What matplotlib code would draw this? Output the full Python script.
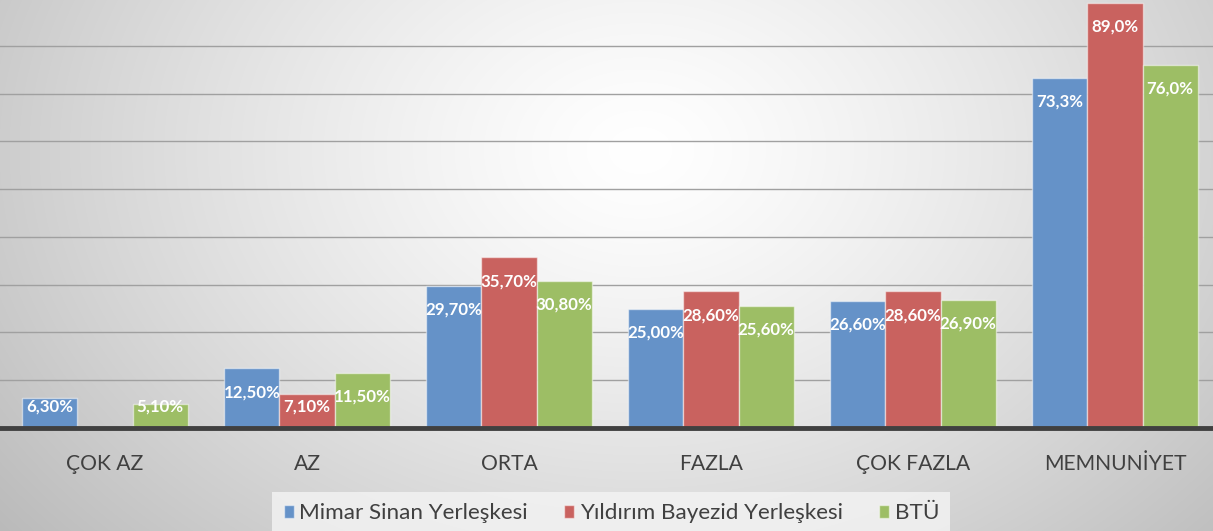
import numpy as np
import matplotlib
matplotlib.use("Agg")
import matplotlib.pyplot as plt
from matplotlib.patches import Patch

categories = ["ÇOK AZ", "AZ", "ORTA", "FAZLA", "ÇOK FAZLA", "MEMNUNİYET"]
series_names = ["Mimar Sinan Yerleşkesi", "Yıldırım Bayezid Yerleşkesi", "BTÜ"]
mimar_sinan = [6.3, 12.5, 29.7, 25.0, 26.6, 73.3]
yildirim = [0.0, 7.1, 35.7, 28.6, 28.6, 89.0]
btu = [5.1, 11.5, 30.8, 25.6, 26.9, 76.0]
label_texts = [
    ["6,30%", "12,50%", "29,70%", "25,00%", "26,60%", "73,3%"],
    ["", "7,10%", "35,70%", "28,60%", "28,60%", "89,0%"],
    ["5,10%", "11,50%", "30,80%", "25,60%", "26,90%", "76,0%"],
]
colors = ["#6592C8", "#C9625F", "#9DBE65"]

plt.rcParams['font.family'] = ['Lato', 'DejaVu Sans']

fig = plt.figure(figsize=(12.13, 5.31), dpi=100)

# background radial gradient
bg = fig.add_axes([0, 0, 1, 1], zorder=-10)
W, H = 1213, 531
yy, xx = np.mgrid[0:H, 0:W]
cx, cy = 640, 150
r = np.sqrt(((xx - cx) / 700.0) ** 2 + ((yy - cy) / 520.0) ** 2)
val = 1.0 - 0.22 * np.clip(r, 0, 1.2) ** 1.3
img = np.dstack([val, val, val])
bg.imshow(img, aspect='auto', extent=[0, 1, 0, 1], origin='upper')
bg.axis('off')

ax = fig.add_axes([0, (531 - 428) / 531, 1, 428 / 531])
ax.patch.set_alpha(0)
x = np.arange(len(categories))
bw = 0.273
data = [mimar_sinan, yildirim, btu]
for i, (vals, c) in enumerate(zip(data, colors)):
    pos = x + (i - 1) * bw
    ax.bar(pos, vals, width=bw, color=c, edgecolor=(1, 1, 1, 0.5), linewidth=1, zorder=3)
    for p, v, t in zip(pos, vals, label_texts[i]):
        if not t:
            continue
        ly = max(v - 5.0, 4.6)
        ax.text(p, ly, t, ha='center', va='center', color='white', fontsize=12.2,
                fontweight='bold', zorder=5)

ax.set_xlim(-0.52, 5.485)
ax.set_ylim(0, 89.6)
ax.set_yticks(np.arange(10, 90, 10))
ax.yaxis.grid(True, color='#a0a0a0', linewidth=1)
ax.set_axisbelow(True)
ax.tick_params(axis='y', left=False, labelleft=False)
ax.tick_params(axis='x', bottom=False, pad=15, labelsize=15.2, labelcolor='#404040')
ax.set_xticks(x)
ax.set_xticklabels(categories)
for s in ['top', 'right', 'left']:
    ax.spines[s].set_visible(False)
ax.spines['bottom'].set_color('#404040')
ax.spines['bottom'].set_linewidth(3.5)
ax.spines['bottom'].set_zorder(6)

handles = [Patch(facecolor=c, edgecolor=(1, 1, 1, 0.5)) for c in colors]
leg = fig.legend(handles, series_names, loc='center', bbox_to_anchor=(0.504, 0.033),
                 ncol=3, frameon=True, fontsize=16.2, handlelength=0.45, handleheight=0.45,
                 handletextpad=0.25, columnspacing=1.6, borderpad=0.5)
leg.get_frame().set_facecolor('#f4f4f4')
leg.get_frame().set_edgecolor('none')
leg.get_frame().set_alpha(0.8)
leg.get_frame().set_boxstyle('square', pad=0.0)
for t in leg.get_texts():
    t.set_color('#404040')

fig.savefig("out.png", dpi=100)
